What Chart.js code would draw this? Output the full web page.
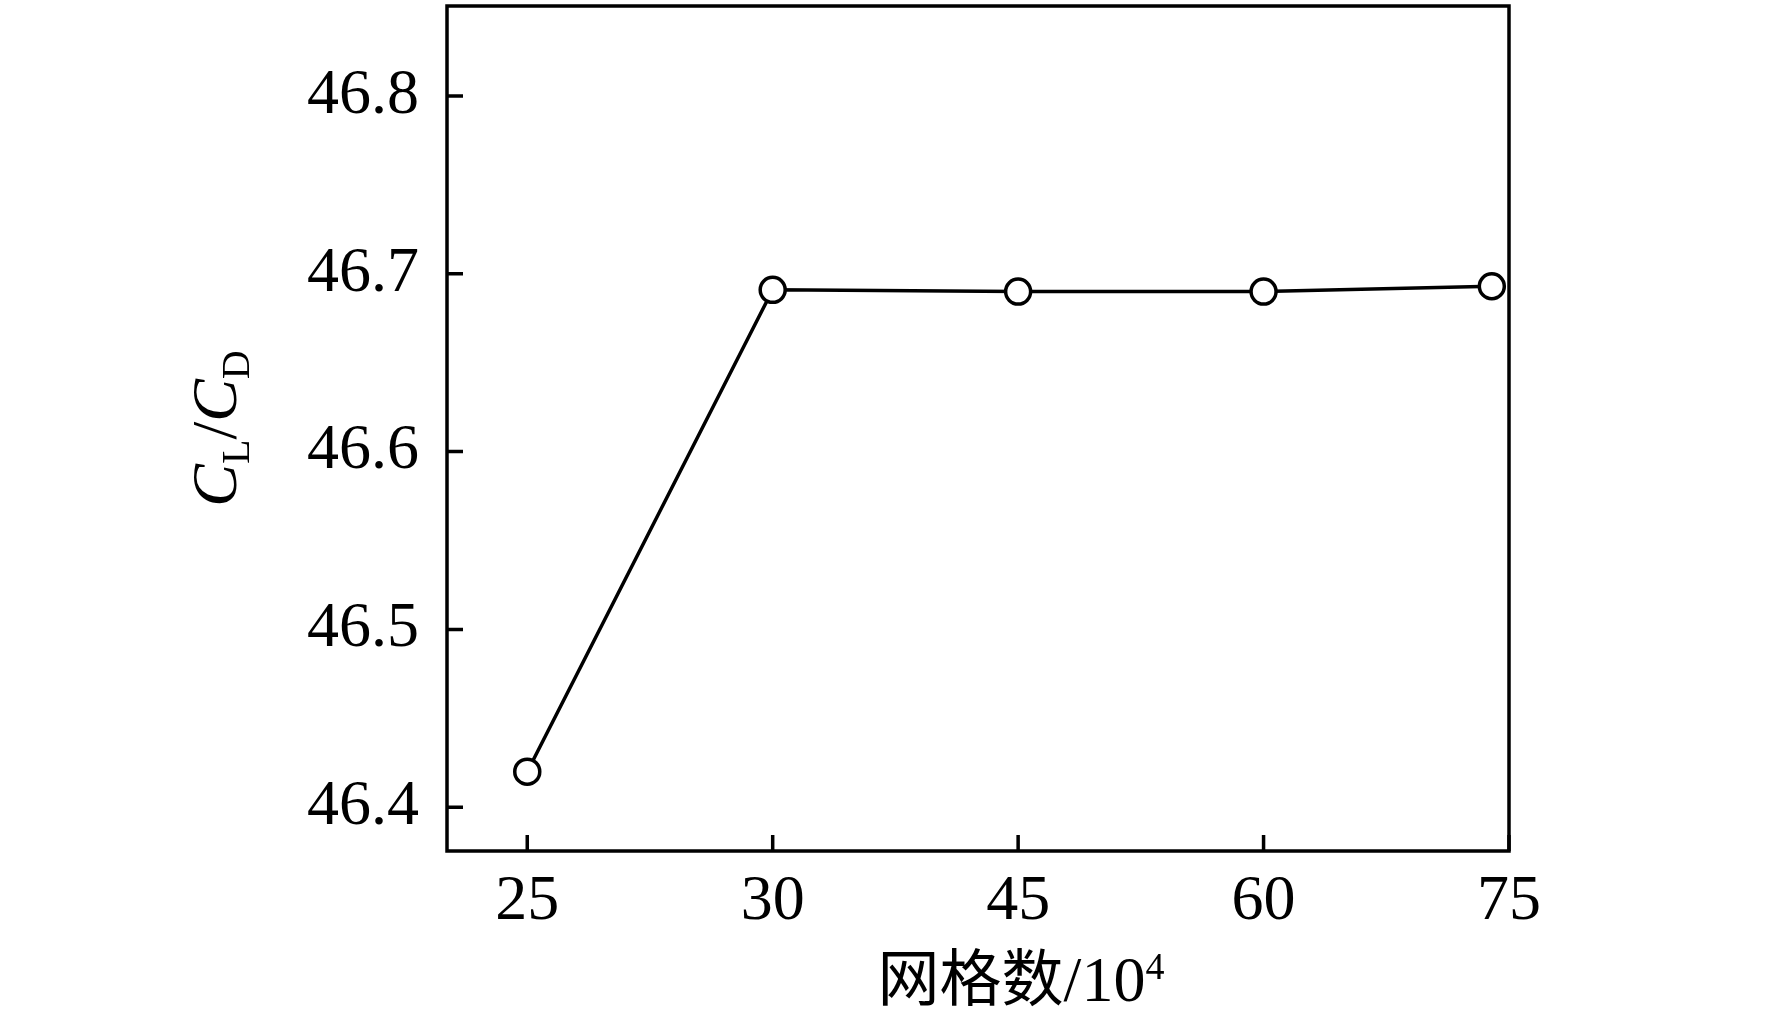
<!DOCTYPE html>
<html>
<head>
<meta charset="utf-8">
<script src="https://cdn.jsdelivr.net/npm/chart.js@4/dist/chart.umd.min.js"></script>
<style>
  html, body { margin: 0; padding: 0; background: #fff; }
  #wrap { width: 1772px; height: 1027px; }
</style>
</head>
<body>
<div id="wrap"><canvas id="c" width="1772" height="1027"></canvas></div>
<script>
// ---- data ----
const categories = ['25', '30', '45', '60', '75'];          // x tick labels (网格数/10^4)
const categoryIndex = [0, 1, 2, 3, 4];                      // tick positions on the x axis
const pointIndex = [0, 1, 2, 3, 3.93];                      // where each point sits along x
const clcdValues = [46.420, 46.691, 46.690, 46.690, 46.693]; // C_L/C_D
const yTicks = [46.4, 46.5, 46.6, 46.7, 46.8];

const SERIF = '"Liberation Serif", "Times New Roman", serif';
const CJK = '"Noto Sans CJK SC", sans-serif';

const points = pointIndex.map((x, i) => ({ x: x, y: clcdValues[i] }));

const framePlugin = {
  id: 'frame',
  afterDraw(chart) {
    const ctx = chart.ctx;
    const a = chart.chartArea;
    const xs = chart.scales.x, ys = chart.scales.y;
    ctx.save();
    ctx.strokeStyle = '#000';
    ctx.lineWidth = 3.5;
    ctx.lineCap = 'butt';
    // inward ticks
    ctx.beginPath();
    ys.ticks.forEach(t => {
      const y = ys.getPixelForValue(t.value);
      ctx.moveTo(a.left, y); ctx.lineTo(a.left + 16, y);
    });
    xs.ticks.forEach(t => {
      const x = xs.getPixelForValue(t.value);
      ctx.moveTo(x, a.bottom); ctx.lineTo(x, a.bottom - 16);
    });
    ctx.stroke();
    // box
    ctx.strokeRect(a.left, a.top, a.right - a.left, a.bottom - a.top);

    // y title: C_L / C_D  (rotated)
    const parts = [
      { t: 'C', f: 'italic 64px ' + SERIF, dy: 0 },
      { t: 'L', f: '40px ' + SERIF, dy: 13 },
      { t: '/', f: '64px ' + SERIF, dy: 0 },
      { t: 'C', f: 'italic 64px ' + SERIF, dy: 0 },
      { t: 'D', f: '40px ' + SERIF, dy: 13 }
    ];
    let total = 0;
    parts.forEach(p => { ctx.font = p.f; p.w = ctx.measureText(p.t).width; total += p.w; });
    ctx.translate(236, (a.top + a.bottom) / 2);
    ctx.rotate(-Math.PI / 2);
    ctx.fillStyle = '#000';
    ctx.textBaseline = 'alphabetic';
    ctx.textAlign = 'left';
    let x = -total / 2;
    parts.forEach(p => { ctx.font = p.f; ctx.fillText(p.t, x, p.dy); x += p.w; });
    ctx.restore();

    // x title: 网格数/10^4
    ctx.save();
    ctx.fillStyle = '#000';
    ctx.textBaseline = 'alphabetic';
    ctx.textAlign = 'left';
    const xp = [
      { t: '网格数', f: '62px ' + CJK, dy: 0 },
      { t: '/10', f: '64px ' + SERIF, dy: 0 },
      { t: '4', f: '38px ' + SERIF, dy: -22 }
    ];
    let tw = 0;
    xp.forEach(p => { ctx.font = p.f; p.w = ctx.measureText(p.t).width; tw += p.w; });
    let cx = 1021 - tw / 2;
    xp.forEach(p => { ctx.font = p.f; ctx.fillText(p.t, cx, 1001 + p.dy); cx += p.w; });
    ctx.restore();
  }
};

new Chart(document.getElementById('c'), {
  type: 'line',
  data: {
    datasets: [{
      data: points,
      borderColor: '#000',
      borderWidth: 3.5,
      tension: 0,
      pointRadius: 12.5,
      pointHoverRadius: 12.5,
      pointBorderWidth: 3.5,
      pointBackgroundColor: '#fff',
      pointBorderColor: '#000',
      clip: false
    }]
  },
  options: {
    responsive: false,
    devicePixelRatio: 1,
    animation: false,
    events: [],
    layout: { autoPadding: false, padding: { left: 0, top: 6, right: 263, bottom: 0 } },
    plugins: { legend: { display: false }, tooltip: { enabled: false } },
    scales: {
      x: {
        type: 'linear',
        min: -0.327,
        max: 4,
        afterBuildTicks: s => { s.ticks = categoryIndex.map(v => ({ value: v })); },
        afterFit: s => { s.height = 1027 - 851; s.paddingLeft = 0; s.paddingRight = 0; },
        ticks: {
          autoSkip: false,
          maxRotation: 0,
          padding: 13,
          color: '#000',
          font: { family: SERIF, size: 64 },
          callback: (v) => categories[categoryIndex.indexOf(v)]
        },
        grid: { display: false, drawTicks: false },
        border: { display: false }
      },
      y: {
        type: 'linear',
        min: 46.3754,
        max: 46.8506,
        afterBuildTicks: s => { s.ticks = yTicks.map(v => ({ value: v })); },
        afterFit: s => { s.width = 447; s.paddingTop = 0; s.paddingBottom = 0; },
        ticks: {
          padding: 28,
          color: '#000',
          font: { family: SERIF, size: 64 },
          callback: v => Number(v).toFixed(1)
        },
        grid: { display: false, drawTicks: false },
        border: { display: false }
      }
    }
  },
  plugins: [framePlugin]
});
</script>
</body>
</html>
